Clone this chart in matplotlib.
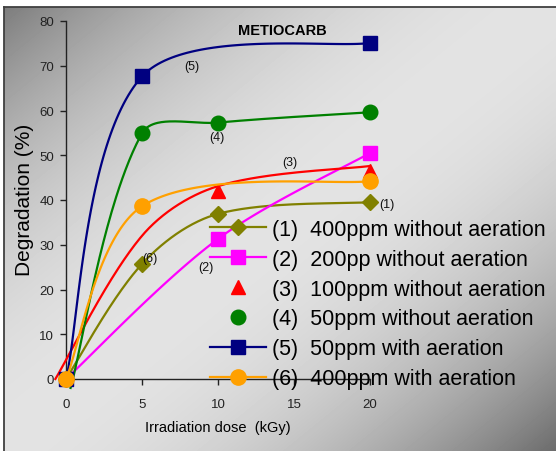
import numpy as np
import matplotlib
matplotlib.use("Agg")
import matplotlib.pyplot as plt
from matplotlib.lines import Line2D

plt.rcParams['font.family'] = ['Liberation Sans', 'DejaVu Sans']

# --- data ---
# (1) 400ppm without aeration
olive_x = [0, 5, 10, 20]
olive_y = [0, 25.7, 36.9, 39.5]
# (2) 200pp without aeration
pink_x = [0, 10, 20]
pink_y = [0, 31.3, 50.5]
# (3) 100ppm without aeration (markers + separate smoothed curve)
red_x = [10, 20]
red_y = [42.0, 46.5]
red_curve_x = [-0.7, 5, 10, 20]
red_curve_y = [0, 32.0, 43.1, 47.6]
# (4) 50ppm without aeration
green_x = [0.3, 5, 10, 20]
green_y = [-2.0, 54.9, 57.3, 59.6]
# (5) 50ppm with aeration
navy_x = [0, 5, 20]
navy_y = [0, 67.6, 75.1]
# (6) 400ppm with aeration
orange_x = [0, 5, 20]
orange_y = [0, 38.6, 44.2]

legend_labels = ['(1)  400ppm without aeration', '(2)  200pp without aeration',
                 '(3)  100ppm without aeration', '(4)  50ppm without aeration',
                 '(5)  50ppm with aeration', '(6)  400ppm with aeration']
curve_tags = ['(1)', '(2)', '(3)', '(4)', '(5)', '(6)']
tag_x = [21.1, 9.2, 14.7, 9.9, 8.3, 5.5]
tag_y = [39.1, 25.1, 48.6, 54.1, 69.9, 27.0]

W, H = 556, 452
ax_left, ax_right, ax_top, ax_bottom = 66, 370, 22, 380
sx = (ax_right - ax_left) / 20.0
sy = (ax_bottom - ax_top) / 80.0


def excel_smooth(xs, ys, n=60):
    # Bezier smoothing like a spreadsheet "smoothed line", done in pixel space
    P = np.column_stack([np.asarray(xs, float) * sx, np.asarray(ys, float) * sy])
    m = len(P)
    pts = [P[:1]]
    t = np.linspace(0, 1, n)[1:, None]
    for i in range(m - 1):
        p0, p1 = P[i], P[i + 1]
        if i == 0:
            c1 = p0 + (p1 - p0) / 6
        else:
            d0 = np.linalg.norm(p0 - P[i - 1])
            d1 = np.linalg.norm(p1 - p0)
            c1 = p0 + (p1 - P[i - 1]) * d1 / (d0 + d1) / 3
        if i + 1 == m - 1:
            c2 = p1 - (p1 - p0) / 6
        else:
            d0 = np.linalg.norm(p1 - p0)
            d1 = np.linalg.norm(P[i + 2] - p1)
            c2 = p1 - (P[i + 2] - p0) * d0 / (d0 + d1) / 3
        B = ((1 - t) ** 3) * p0 + 3 * ((1 - t) ** 2) * t * c1 + 3 * (1 - t) * t ** 2 * c2 + t ** 3 * p1
        pts.append(B)
    pts = np.vstack(pts)
    return pts[:, 0] / sx, pts[:, 1] / sy


fig = plt.figure(figsize=(W / 100, H / 100), dpi=100)

# gradient background with frame line
bg = fig.add_axes([0, 0, 1, 1], zorder=-10)
yy, xx = np.mgrid[0:H, 0:W]
tt = xx / W + yy / H - 1
img = np.where(tt < 0, 0.89 - 0.42 * tt ** 2, 0.89 - 0.47 * tt ** 2)
img[:8, :] = 1.0
img[:, :4] = 1.0
bg.imshow(img, cmap='gray', vmin=0, vmax=1, extent=[0, W, H, 0], aspect='auto', interpolation='bilinear')
bg.plot([4, W], [8, 8], color='#404040', lw=1.3)
bg.plot([4, 4], [8, H], color='#404040', lw=1.3)
bg.set_xlim(0, W)
bg.set_ylim(H, 0)
bg.axis('off')

ax = fig.add_axes([ax_left / W, (H - ax_bottom) / H, (ax_right - ax_left) / W, (ax_bottom - ax_top) / H])
ax.set_zorder(1)
ax.patch.set_alpha(0)
ax.set_xlim(0, 20)
ax.set_ylim(0, 80)

lw = 1.6
series = [
    (olive_x, olive_y, '#808000', 'D', 8.5, None),
    (pink_x, pink_y, '#ff00ff', 's', 10.5, [1, 2]),
    (red_curve_x, red_curve_y, '#ff0000', None, 0, None),
    (green_x, green_y, '#008000', 'o', 10.5, [1, 2, 3]),
    (navy_x, navy_y, '#000080', 's', 10.5, None),
    (orange_x, orange_y, '#ffa000', 'o', 11, None),
]
for i, (xs, ys, col, mk, ms, every) in enumerate(series):
    cx, cy = excel_smooth(xs, ys)
    ax.plot(cx, cy, color=col, lw=lw, clip_on=False, zorder=2 + i)
    if mk is not None:
        idx = every if every is not None else range(len(xs))
        ax.plot([xs[k] for k in idx], [ys[k] for k in idx], ls='none', marker=mk,
                ms=ms, color=col, clip_on=False, zorder=2 + i)
    if i == 2:
        ax.plot(red_x, red_y, ls='none', marker='^', ms=10.5, color=col, clip_on=False, zorder=2 + i)

for tg, tx, ty in zip(curve_tags, tag_x, tag_y):
    ax.text(tx, ty, tg, fontsize=9, ha='center', va='center', color='#111111', zorder=10)
ax.text(14.2, 78, 'METIOCARB', fontsize=10.5, fontweight='bold', ha='center', va='center')

for s in ['top', 'right']:
    ax.spines[s].set_visible(False)
for s in ['left', 'bottom']:
    ax.spines[s].set_color('#222222')
    ax.spines[s].set_linewidth(1.0)
ax.set_xticks([0, 5, 10, 15, 20])
ax.set_yticks(range(0, 81, 10))
ax.tick_params(direction='out', length=4.5, width=1, colors='#222222', labelsize=9.5)
ax.tick_params(axis='x', pad=9)
ax.tick_params(axis='y', pad=4)

ax.set_xlabel('Irradiation dose  (kGy)', fontsize=10.5)
ax.set_ylabel('Degradation (%)', fontsize=15)
ax.xaxis.label.set_va('center')
ax.yaxis.label.set_va('center')
ax.xaxis.set_label_coords((217.5 - ax_left) / (ax_right - ax_left), -(428 - ax_bottom) / (ax_bottom - ax_top))
ax.yaxis.set_label_coords((25 - ax_left) / (ax_right - ax_left), (ax_bottom - 200) / (ax_bottom - ax_top))

handles = [
    Line2D([], [], color='#808000', lw=lw, marker='D', ms=8.5),
    Line2D([], [], color='#ff00ff', lw=lw, marker='s', ms=10.5),
    Line2D([], [], color='#ff0000', ls='none', marker='^', ms=10.5),
    Line2D([], [], color='#008000', ls='none', marker='o', ms=10.5),
    Line2D([], [], color='#000080', lw=lw, marker='s', ms=10.5),
    Line2D([], [], color='#ffa000', lw=lw, marker='o', ms=11),
]
leg = fig.legend(handles, legend_labels, loc='upper left', bbox_to_anchor=(210 / W, 1 - 220 / H),
                 frameon=False, fontsize=15.5, handlelength=2.6, handletextpad=0.3,
                 labelspacing=0.41, borderpad=0, borderaxespad=0, numpoints=1)
leg.set_zorder(20)

fig.savefig('out.png', dpi=100)
